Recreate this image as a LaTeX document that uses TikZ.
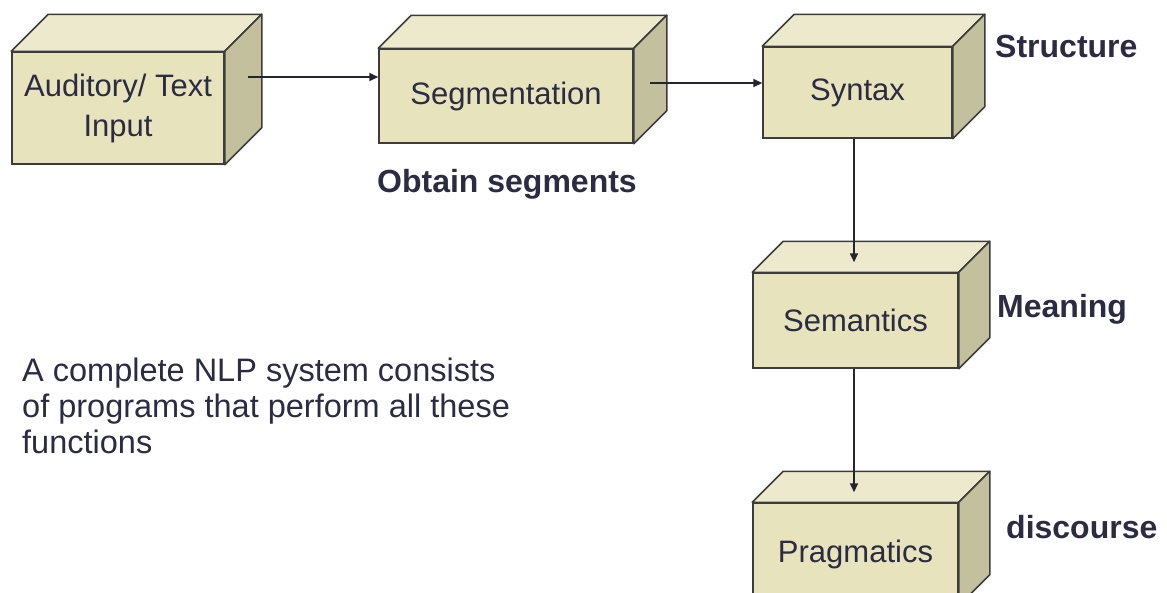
\documentclass[tikz,border=0pt]{standalone}
\usepackage{fontspec}
\setmainfont{Liberation Sans}
\usetikzlibrary{arrows.meta,calc}
\definecolor{frontc}{HTML}{E6E3BD}
\definecolor{topc}{HTML}{ECE9CC}
\definecolor{sidec}{HTML}{C3C09D}
\definecolor{edgec}{HTML}{3C3C3C}
\definecolor{txtc}{HTML}{2B2B42}
\definecolor{arrc}{HTML}{25252F}
\begin{document}
\begin{tikzpicture}[x=1pt,y=-1pt,
  front/.style={draw=edgec, fill=frontc, line width=1.5pt, text=txtc,
    font=\fontsize{31}{40}\selectfont, align=center, inner sep=0pt},
  topface/.style={draw=edgec, fill=topc, line width=1.5pt, line join=round},
  sideface/.style={draw=edgec, fill=sidec, line width=1.5pt, line join=round},
  conn/.style={draw=arrc, line width=2pt, -{Triangle[length=9pt,width=8pt]}},
  lbl/.style={text=txtc, font=\bfseries\fontsize{32}{38}\selectfont, anchor=base west, inner sep=0pt},
  para/.style={text=txtc, font=\fontsize{32.5}{36}\selectfont, align=left, anchor=north west, inner sep=0pt}]
\fill[white] (0,0) rectangle (1167,592);
\useasboundingbox (0,0) rectangle (1167,592);

% boxes
\node[front, minimum width=212pt, minimum height=112pt] (inp) at (118,108) {Auditory/ Text\\Input};
\draw[topface] (inp.north west) -- ++(37,-37) -- ($(inp.north east)+(37,-37)$) -- (inp.north east) -- cycle;
\draw[sideface] (inp.north east) -- ++(37,-37) -- ($(inp.south east)+(37,-37)$) -- (inp.south east) -- cycle;

\node[front, minimum width=254pt, minimum height=94pt] (seg) at (506,96) {Segmentation};
\draw[topface] (seg.north west) -- ++(33,-33) -- ($(seg.north east)+(33,-33)$) -- (seg.north east) -- cycle;
\draw[sideface] (seg.north east) -- ++(33,-33) -- ($(seg.south east)+(33,-33)$) -- (seg.south east) -- cycle;

\node[front, minimum width=189pt, minimum height=91pt] (syn) at (857.5,92.5) {Syntax};
\draw[topface] (syn.north west) -- ++(32,-32) -- ($(syn.north east)+(32,-32)$) -- (syn.north east) -- cycle;
\draw[sideface] (syn.north east) -- ++(32,-32) -- ($(syn.south east)+(32,-32)$) -- (syn.south east) -- cycle;

\node[front, minimum width=205pt, minimum height=95pt] (sem) at (855.5,320.5) {Semantics};
\draw[topface] (sem.north west) -- ++(31,-31) -- ($(sem.north east)+(31,-31)$) -- (sem.north east) -- cycle;
\draw[sideface] (sem.north east) -- ++(31,-31) -- ($(sem.south east)+(31,-31)$) -- (sem.south east) -- cycle;

\node[front, minimum width=205pt, minimum height=102pt] (prag) at (855.5,554) {Pragmatics};
\draw[topface] (prag.north west) -- ++(31,-31) -- ($(prag.north east)+(31,-31)$) -- (prag.north east) -- cycle;
\draw[sideface] (prag.north east) -- ++(31,-31) -- ($(prag.south east)+(31,-31)$) -- (prag.south east) -- cycle;

% connectors
\coordinate (inpout) at ($(inp.east)+(23,-31)$);
\coordinate (segout) at ($(seg.east)+(16,-13)$);
\coordinate (semin) at ($(sem.north)+(-1.5,-10)$);
\coordinate (pragin) at ($(prag.north)+(-1.5,-10)$);
\draw[conn] (inpout) -- (inpout -| seg.west);
\draw[conn] (segout) -- (segout -| syn.west);
\draw[conn] (semin |- syn.south) -- (semin);
\draw[conn] (pragin |- sem.south) -- (pragin);

% labels
\node[lbl] (struct) at (995,57) {Structure};
\node[lbl] (obt) at (377,192) {Obtain segments};
\node[lbl] (mean) at (997,317) {Meaning};
\node[lbl] (disc) at (1006,538) {discourse};
\node[para] (desc) at (22,358) {A complete NLP system consists\\of programs that perform all these\\functions};
\end{tikzpicture}
\end{document}
